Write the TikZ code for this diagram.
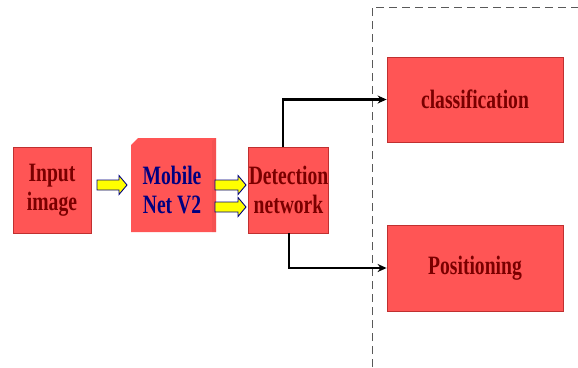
\documentclass[tikz,border=0pt]{standalone}
\usepackage{fontspec}
\setmainfont{Liberation Serif}
\newfontfamily\narrowfont[FakeStretch=0.74]{Liberation Serif}
\usetikzlibrary{arrows.meta}
\definecolor{boxred}{HTML}{FF5555}
\definecolor{boxedge}{HTML}{C03030}
\definecolor{txtred}{HTML}{7A0000}
\definecolor{txtblue}{HTML}{000080}
\definecolor{yel}{HTML}{FFFF00}
\tikzset{
  bigtext/.style={font=\narrowfont\fontsize{26.5}{29}\selectfont\bfseries, align=center},
  redbox/.style={draw=boxedge, line width=0.8pt, fill=boxred, minimum width=#1, inner sep=0pt, text=txtred, bigtext},
  conn/.style={line width=2.4pt, -{Stealth[length=9pt,width=8pt]}},
  yarrow/.pic={
    \draw[draw=txtblue, fill=yel, line width=0.9pt, line join=miter]
      (0,-5)--(#1-8,-5)--(#1-8,-9.5)--(#1,0)--(#1-8,9.5)--(#1-8,5)--(0,5)--cycle;
  }
}
\begin{document}
\begin{tikzpicture}[x=1pt,y=-1pt]
\useasboundingbox (0,0) rectangle (578,367);
% dashed frame
\draw[gray!70!black, line width=0.9pt, dash pattern=on 8pt off 5pt] (372,367) -- (372,7) -- (578,7);
% nodes
\node[redbox=78pt, minimum height=86pt] (inp) at (52,190) {Input\\image};
\fill[boxred] (131,145)--(138,138)--(216,138)--(216,232)--(131,232)--cycle;
\fill[boxred!85!black, opacity=0.25] (212,141)--(216,138)--(216,232)--(212,232)--cycle;
\node[bigtext, text=txtblue] (mob) at (172,190) {Mobile\\Net V2};
\node[redbox=79pt, minimum height=86pt] (det) at (288.5,190) {Detection\\network};
\node[redbox=176pt, minimum height=85pt] (cls) at (475,99.5) {classification};
\node[redbox=176pt, minimum height=86pt] (pos) at (475,268) {Positioning};
% block arrows
\pic at (97,185) {yarrow=30};
\pic at (215,185) {yarrow=31};
\pic at (215,207) {yarrow=31};
% connectors
\draw[conn] ([xshift=-5.5pt]det.north) |- (cls.west);
\draw[conn] ([xshift=0.5pt]det.south) |- (pos.west);
\end{tikzpicture}
\end{document}
